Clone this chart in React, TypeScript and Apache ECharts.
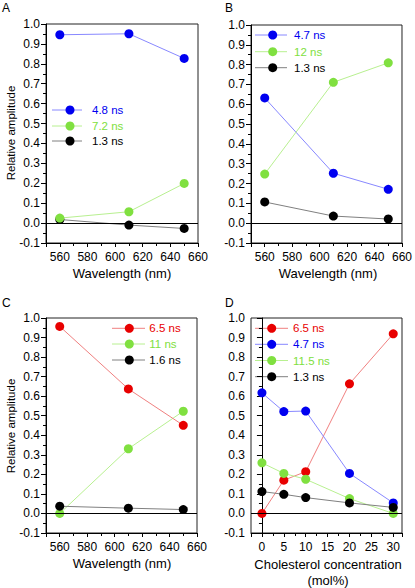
import React, { useEffect, useRef } from "react";
import * as echarts from "echarts";

const wavelengths = [560, 610, 650];
const cholesterol = [0, 5, 10, 20, 30];

// Panel A
const a48 = [0.946, 0.951, 0.827];
const a72 = [0.025, 0.057, 0.199];
const a13 = [0.018, -0.01, -0.027];
// Panel B
const b47 = [0.632, 0.252, 0.171];
const b12 = [0.248, 0.711, 0.809];
const b13 = [0.107, 0.036, 0.021];
// Panel C
const c65 = [0.957, 0.637, 0.451];
const c11 = [0.0, 0.331, 0.523];
const c16 = [0.037, 0.027, 0.02];
// Panel D
const d65 = [0.0, 0.17, 0.214, 0.663, 0.919];
const d47 = [0.617, 0.521, 0.524, 0.205, 0.054];
const d115 = [0.259, 0.205, 0.175, 0.076, 0.0];
const d13 = [0.112, 0.098, 0.081, 0.054, 0.031];

const FONT = "Liberation Sans, Arial, sans-serif";
const BLUE = "#0000f0";
const BLUE_L = "#8888ff";
const GREEN = "#80e040";
const GREEN_L = "#b8f090";
const RED = "#e80000";
const RED_L = "#f08080";
const BLACK = "#000000";
const BLACK_L = "#808080";

const grids = [
  { left: 46, top: 24, width: 152, height: 219 },
  { left: 251, top: 25, width: 153, height: 218 },
  { left: 46, top: 318, width: 151, height: 215 },
  { left: 251, top: 318, width: 151, height: 215 },
];

function pairs(xs: number[], ys: number[]) {
  return xs.map((x, i) => [x, ys[i]]);
}

function lineSeries(name: string, idx: number, xs: number[], ys: number[], color: string, light: string, zero = false) {
  const s: any = {
    type: "line",
    name,
    xAxisIndex: idx,
    yAxisIndex: idx,
    data: pairs(xs, ys),
    symbol: "circle",
    symbolSize: 9,
    itemStyle: { color },
    lineStyle: { color: light, width: 1 },
    silent: true,
  };
  if (zero) {
    s.markLine = {
      silent: true,
      symbol: "none",
      label: { show: false },
      lineStyle: { color: "#000", width: 1, type: "solid" },
      data: [{ yAxis: 0 }],
    };
  }
  return s;
}

function legend(items: { text: string; color: string; light: string }[], x1: number, x2: number, cx: number, tx: number, ys: number[]) {
  const els: any[] = [];
  items.forEach((it, i) => {
    const y = ys[i];
    els.push({ type: "line", shape: { x1, y1: y, x2, y2: y }, style: { stroke: it.light, lineWidth: 1 }, silent: true });
    els.push({ type: "circle", shape: { cx, cy: y, r: 4.5 }, style: { fill: it.color }, silent: true });
    els.push({ type: "text", x: tx, y, style: { text: it.text, fill: it.color, font: `11.5px ${FONT}`, verticalAlign: "middle", align: "left" }, silent: true });
  });
  return els;
}

function yAxis(idx: number) {
  return {
    type: "value",
    gridIndex: idx,
    min: -0.1,
    max: 1.0,
    interval: 0.1,
    axisLine: { show: true, lineStyle: { color: "#000", width: 1 } },
    axisTick: { show: true, inside: false, length: 5, lineStyle: { color: "#000" } },
    minorTick: { show: true, splitNumber: 2, length: 3, lineStyle: { color: "#000" } },
    splitLine: { show: false },
    axisLabel: { color: "#000", fontSize: 12, fontFamily: FONT, margin: 6, formatter: (v: number) => v.toFixed(1) },
  };
}

function xAxisW(idx: number) {
  return {
    type: "value",
    gridIndex: idx,
    min: 550,
    max: 660,
    splitNumber: 5,
    axisLine: { show: true, onZero: false, lineStyle: { color: "#000", width: 1 } },
    axisTick: { show: true, inside: false, length: 4, lineStyle: { color: "#000" } },
    minorTick: { show: true, splitNumber: 2, length: 3, lineStyle: { color: "#000" } },
    splitLine: { show: false },
    axisLabel: {
      color: "#000", fontSize: 12, fontFamily: FONT, margin: 8,
      formatter: (v: number) => (Math.abs(v % 20) < 1e-6 && v >= 560 ? String(v) : ""),
    },
  };
}

function xAxisD(idx: number) {
  return {
    type: "value",
    gridIndex: idx,
    min: -2.5,
    max: 32,
    splitNumber: 7,
    axisLine: { show: true, onZero: false, lineStyle: { color: "#000", width: 1 } },
    axisTick: { show: true, inside: false, length: 4, lineStyle: { color: "#000" } },
    minorTick: { show: true, splitNumber: 2, length: 3, lineStyle: { color: "#000" } },
    splitLine: { show: false },
    axisLabel: {
      color: "#000", fontSize: 12, fontFamily: FONT, margin: 8,
      formatter: (v: number) => (Math.abs(v % 5) < 1e-6 && v >= 0 && v <= 30 ? String(v) : ""),
    },
  };
}

export default function App() {
  const ref = useRef<HTMLDivElement>(null);
  useEffect(() => {
    if (!ref.current) return;
    const chart = echarts.init(ref.current, undefined, { renderer: "svg" });
    const titleStyle = { fill: "#000", font: `13px ${FONT}`, align: "center", verticalAlign: "middle" };
    const yTitleStyle = { fill: "#000", font: `11.5px ${FONT}`, align: "center", verticalAlign: "middle" };
    const letterStyle = { fill: "#000", font: `12px ${FONT}`, align: "left", verticalAlign: "top" };
    const graphic: any[] = [
      { type: "text", x: 2, y: 2, style: { ...letterStyle, text: "A" } },
      { type: "text", x: 225, y: 2, style: { ...letterStyle, text: "B" } },
      { type: "text", x: 2, y: 297, style: { ...letterStyle, text: "C" } },
      { type: "text", x: 225, y: 297, style: { ...letterStyle, text: "D" } },
      { type: "text", x: 122, y: 273, style: { ...titleStyle, text: "Wavelength (nm)" } },
      { type: "text", x: 328, y: 273, style: { ...titleStyle, text: "Wavelength (nm)" } },
      { type: "text", x: 122, y: 563, style: { ...titleStyle, text: "Wavelength (nm)" } },
      { type: "text", x: 328, y: 564, style: { ...titleStyle, text: "Cholesterol concentration" } },
      { type: "text", x: 328, y: 580, style: { ...titleStyle, text: "(mol%)" } },
      { type: "text", x: 11, y: 133, rotation: Math.PI / 2, style: { ...yTitleStyle, text: "Relative amplitude" } },
      { type: "text", x: 11, y: 426, rotation: Math.PI / 2, style: { ...yTitleStyle, text: "Relative amplitude" } },
      ...legend(
        [
          { text: "4.8 ns", color: BLUE, light: BLUE_L },
          { text: "7.2 ns", color: GREEN, light: GREEN_L },
          { text: "1.3 ns", color: BLACK, light: BLACK_L },
        ], 52, 82, 70, 92, [110, 126, 141]
      ),
      ...legend(
        [
          { text: "4.7 ns", color: BLUE, light: BLUE_L },
          { text: "12 ns", color: GREEN, light: GREEN_L },
          { text: "1.3 ns", color: BLACK, light: BLACK_L },
        ], 255, 287, 272.7, 294, [35, 51.7, 67.7]
      ),
      ...legend(
        [
          { text: "6.5 ns", color: RED, light: RED_L },
          { text: "11 ns", color: GREEN, light: GREEN_L },
          { text: "1.6 ns", color: BLACK, light: BLACK_L },
        ], 112, 145, 129.3, 149.3, [328.3, 344, 360]
      ),
      ...legend(
        [
          { text: "6.5 ns", color: RED, light: RED_L },
          { text: "4.7 ns", color: BLUE, light: BLUE_L },
          { text: "11.5 ns", color: GREEN, light: GREEN_L },
          { text: "1.3 ns", color: BLACK, light: BLACK_L },
        ], 255, 288, 271.7, 293, [328.3, 344.3, 360.5, 376.7]
      ),
    ];
    chart.setOption({
      animation: false,
      grid: grids.map((g) => ({ ...g, show: true, borderColor: "#222", borderWidth: 1, backgroundColor: "transparent", containLabel: false })),
      xAxis: [xAxisW(0), xAxisW(1), xAxisW(2), xAxisD(3)],
      yAxis: [yAxis(0), yAxis(1), yAxis(2), yAxis(3)],
      series: [
        lineSeries("1.3 ns", 0, wavelengths, a13, BLACK, BLACK_L, true),
        lineSeries("4.8 ns", 0, wavelengths, a48, BLUE, BLUE_L),
        lineSeries("7.2 ns", 0, wavelengths, a72, GREEN, GREEN_L),

        lineSeries("4.7 ns", 1, wavelengths, b47, BLUE, BLUE_L, true),
        lineSeries("12 ns", 1, wavelengths, b12, GREEN, GREEN_L),
        lineSeries("1.3 ns", 1, wavelengths, b13, BLACK, BLACK_L),

        lineSeries("11 ns", 2, wavelengths, c11, GREEN, GREEN_L, true),
        lineSeries("6.5 ns", 2, wavelengths, c65, RED, RED_L),
        lineSeries("1.6 ns", 2, wavelengths, c16, BLACK, BLACK_L),

        lineSeries("6.5 ns", 3, cholesterol, d65, RED, RED_L, true),
        lineSeries("4.7 ns", 3, cholesterol, d47, BLUE, BLUE_L),
        lineSeries("11.5 ns", 3, cholesterol, d115, GREEN, GREEN_L),
        lineSeries("1.3 ns", 3, cholesterol, d13, BLACK, BLACK_L),
      ],
      graphic,
    });
    return () => chart.dispose();
  }, []);
  return (
    <div
      ref={ref}
      style={{ position: "absolute", left: 0, top: 0, width: 415, height: 588, background: "#fff" }}
    />
  );
}
